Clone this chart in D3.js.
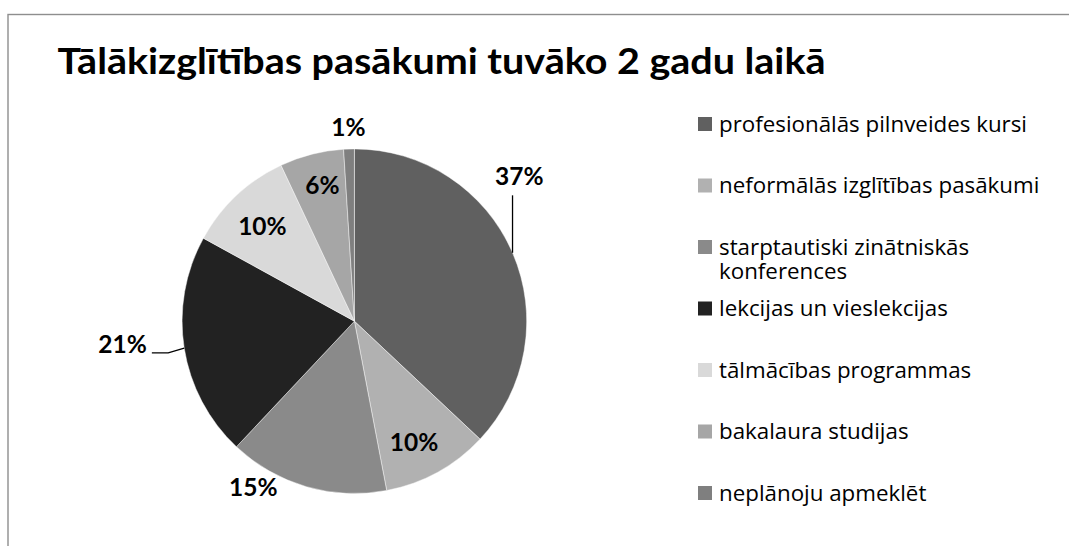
<!DOCTYPE html>
<html>
<head>
<meta charset="utf-8">
<script src="https://cdn.jsdelivr.net/npm/d3@7"></script>
<style>
  body { margin: 0; background: #fff; }
</style>
</head>
<body>
<svg id="chart"></svg>
<script>
// chart data
var titleText = "Tālākizglītības pasākumi tuvāko 2 gadu laikā";
var categories = [
  "profesionālās pilnveides kursi",
  "neformālās izglītības pasākumi",
  "starptautiski zinātniskās konferences",
  "lekcijas un vieslekcijas",
  "tālmācības programmas",
  "bakalaura studijas",
  "neplānoju apmeklēt"
];
var values = [37, 10, 15, 21, 10, 6, 1];
var colors = ["#606060", "#b1b1b1", "#8a8a8a", "#222222", "#d9d9d9", "#a6a6a6", "#7f7f7f"];

// label placement (radius as share of pie radius, angle shift in degrees)
var labelRadius = [1.274, 0.785, 1.13, 1.352, 0.766, 0.812, 1.126];
var labelShift = [-17.9, 2.6, 15.1, 3.3, -1.0, 1.2, 0];
var leaderLine = [true, false, false, true, false, false, false];

var width = 1069, height = 546;
var cx = 354.4, cy = 321.2, radius = 172.3;
var boldFont = "Lato, 'Open Sans', sans-serif";
var legendFont = "'Open Sans', 'Noto Sans', sans-serif";

var svg = d3.select("#chart")
    .attr("width", width)
    .attr("height", height);

// chart area border (only top and left visible)
svg.append("rect")
    .attr("x", 8)
    .attr("y", 14.5)
    .attr("width", 1200)
    .attr("height", 700)
    .attr("fill", "none")
    .attr("stroke", "#8e8e8e")
    .attr("stroke-width", 1.4);

// title
svg.append("text")
    .attr("x", 57.5)
    .attr("y", 74.3)
    .style("font-family", boldFont)
    .attr("font-size", 36)
    .attr("font-weight", "bold")
    .attr("fill", "#000")
    .attr("textLength", 768)
    .attr("lengthAdjust", "spacingAndGlyphs")
    .text(titleText);

// pie
var total = d3.sum(values);
var pie = d3.pie().sort(null).value(function(d) { return d; });
var arcs = pie(values);
var arc = d3.arc().innerRadius(0).outerRadius(radius);

var g = svg.append("g")
    .attr("transform", "translate(" + cx + "," + cy + ")");

g.selectAll("path.slice")
    .data(arcs)
    .enter().append("path")
    .attr("class", "slice")
    .attr("d", arc)
    .attr("fill", function(d, i) { return colors[i]; })
    .attr("stroke", "#ffffff")
    .attr("stroke-opacity", 0.55)
    .attr("stroke-width", 0.8);

var pct = d3.format(".0%");

function midAngle(d) { return (d.startAngle + d.endAngle) / 2; }

var labelData = arcs.map(function(d, i) {
  var a = midAngle(d) + labelShift[i] * Math.PI / 180;
  var r = labelRadius[i] * radius;
  var m = midAngle(d);
  return {
    i: i,
    text: pct(d.value / total),
    x: Math.sin(a) * r,
    y: -Math.cos(a) * r,
    ex: Math.sin(m) * radius,
    ey: -Math.cos(m) * radius
  };
});

var labels = g.selectAll("text.lbl")
    .data(labelData)
    .enter().append("text")
    .attr("class", "lbl")
    .attr("x", function(d) { return d.x; })
    .attr("y", function(d) { return d.y; })
    .attr("dy", "0.36em")
    .attr("text-anchor", "middle")
    .style("font-family", boldFont)
    .attr("font-size", 24.5)
    .attr("font-weight", "bold")
    .attr("fill", "#000")
    .text(function(d) { return d.text; });

// leader lines
labels.each(function(d) {
  if (!leaderLine[d.i]) return;
  var hw = this.getComputedTextLength() / 2;
  var pts;
  if (Math.abs(d.ex - d.x) < hw) {
    pts = [[d.ex, d.y + 19], [d.ex, d.ey]];
  } else {
    var s = d.ex > d.x ? 1 : -1;
    var ly = d.y + 8.5;
    pts = [[d.x + s * (hw + 5), ly], [d.ex - s * 16, ly], [d.ex, d.ey]];
  }
  g.append("path")
      .attr("d", d3.line()(pts))
      .attr("fill", "none")
      .attr("stroke", "#000")
      .attr("stroke-width", 1.3);
});

// legend
var legendX = 698, textX = 719, maxTextWidth = 333, lineH = 24, legFont = 21;
var legendY = d3.scalePoint().domain(categories).range([117, 486]);

var legend = svg.append("g");

function legendText(sel) {
  return sel.style("font-family", legendFont).attr("font-size", legFont);
}

// measure compression from the first entry (target width 308px)
var probe = legendText(legend.append("text")).text(categories[0]);
var ratio = 308 / probe.node().getComputedTextLength();
probe.remove();

categories.forEach(function(c, i) {
  var top = legendY(c);
  legend.append("rect")
      .attr("x", legendX)
      .attr("y", top)
      .attr("width", 14)
      .attr("height", 14)
      .attr("fill", colors[i]);

  // wrap words into lines
  var words = c.split(" "), lines = [], cur = "";
  var tmp = legendText(legend.append("text"));
  words.forEach(function(w) {
    var test = cur ? cur + " " + w : w;
    tmp.text(test);
    if (cur && tmp.node().getComputedTextLength() * ratio > maxTextWidth) {
      lines.push(cur);
      cur = w;
    } else {
      cur = test;
    }
  });
  lines.push(cur);
  tmp.remove();

  var t = legendText(legend.append("text"))
      .attr("fill", "#000");
  lines.forEach(function(line, k) {
    var ts = t.append("tspan")
        .attr("x", textX)
        .attr("y", top + 14.5 + k * lineH)
        .text(line);
    var w = ts.node().getComputedTextLength();
    ts.attr("textLength", w * ratio).attr("lengthAdjust", "spacingAndGlyphs");
  });
});
</script>
</body>
</html>
